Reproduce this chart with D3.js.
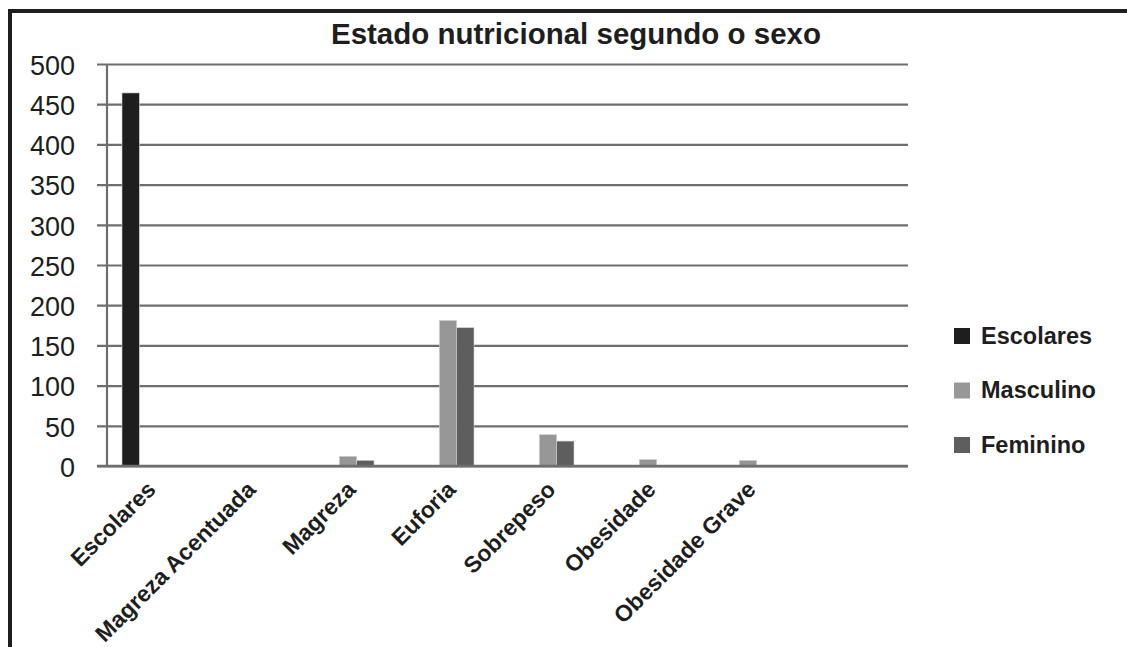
<!DOCTYPE html>
<html>
<head>
<meta charset="utf-8">
<script src="https://cdn.jsdelivr.net/npm/d3@7"></script>
<style>
  html, body { margin: 0; padding: 0; background: #fff; }
  svg { display: block; font-family: "Liberation Sans", Arial, sans-serif; }
</style>
</head>
<body>
<svg id="chart" width="1127" height="647"></svg>
<script>
const categories = ["Escolares", "Magreza Acentuada", "Magreza", "Euforia", "Sobrepeso", "Obesidade", "Obesidade Grave"];
const seriesNames = ["Escolares", "Masculino", "Feminino"];
const escolares = [464, 0, 0, 0, 0, 0, 0];
const masculino = [0, 0, 12, 181, 39, 8, 7];
const feminino = [0, 0, 7, 172, 31, 0, 0];
const yTicks = [0, 50, 100, 150, 200, 250, 300, 350, 400, 450, 500];
const seriesColors = ["#1e1e1e", "#979797", "#5e5e5e"];
const title = "Estado nutricional segundo o sexo";

const seriesValues = [escolares, masculino, feminino];
const svg = d3.select("#chart");

// frame
svg.append("line").attr("x1", 8).attr("x2", 1127).attr("y1", 11).attr("y2", 11)
  .attr("stroke", "#1e1e1e").attr("stroke-width", 4);
svg.append("line").attr("x1", 10).attr("x2", 10).attr("y1", 9).attr("y2", 647)
  .attr("stroke", "#1e1e1e").attr("stroke-width", 4);

// title
svg.append("text").attr("x", 576).attr("y", 44).attr("text-anchor", "middle")
  .attr("font-size", 29.5).attr("font-weight", "bold").attr("fill", "#1e1e1e").text(title);

const y = d3.scaleLinear().domain([0, 500]).range([466, 64]);
const x0 = d3.scaleBand().domain(categories).range([107, 807]);
const x1 = d3.scaleBand().domain(seriesNames).range([15, 67]);
const color = d3.scaleOrdinal().domain(seriesNames).range(seriesColors);

// grid + tick labels
const yAxis = d3.axisLeft(y).tickValues(yTicks).tickSize(-811).tickPadding(22).tickFormat(d3.format("d"));
const gy = svg.append("g").attr("transform", "translate(97,0)").call(yAxis);
gy.select(".domain").remove();
gy.selectAll(".tick line").attr("stroke", "#6e6e6e").attr("stroke-width", 2.2);
gy.selectAll(".tick text").attr("font-size", 27).attr("fill", "#1e1e1e")
  .attr("font-family", "'Liberation Sans', Arial, sans-serif").attr("dy", "0.38em");

// y axis line
svg.append("line").attr("x1", 107).attr("x2", 107).attr("y1", y(500)).attr("y2", y(0))
  .attr("stroke", "#6e6e6e").attr("stroke-width", 2.2);

// bars
const rows = categories.map((c, i) => ({ cat: c, vals: seriesNames.map((s, j) => ({ s, v: seriesValues[j][i] })) }));
const groups = svg.append("g").selectAll("g").data(rows).join("g")
  .attr("transform", d => `translate(${x0(d.cat)},0)`);
groups.selectAll("rect").data(d => d.vals.filter(e => e.v > 0)).join("rect")
  .attr("x", d => x1(d.s)).attr("width", x1.bandwidth())
  .attr("y", d => y(d.v)).attr("height", d => y(0) - y(d.v))
  .attr("fill", d => color(d.s)).attr("stroke", "#d0d0d0").attr("stroke-width", 0.6);

// baseline
svg.append("line").attr("x1", 97).attr("x2", 908).attr("y1", y(0)).attr("y2", y(0))
  .attr("stroke", "#6e6e6e").attr("stroke-width", 2.6);

// category labels
const xAxis = d3.axisBottom(x0).tickSize(0).tickPadding(0);
const gx = svg.append("g").attr("transform", "translate(0,466)").call(xAxis);
gx.select(".domain").remove();
gx.selectAll(".tick text")
  .attr("font-size", 23).attr("font-weight", "bold").attr("fill", "#1e1e1e")
  .attr("font-family", "'Liberation Sans', Arial, sans-serif")
  .attr("text-anchor", "end").attr("dy", 0).attr("y", 0)
  .attr("transform", "translate(0,25) rotate(-45)");

// legend
const legend = svg.append("g").selectAll("g").data(seriesNames).join("g")
  .attr("transform", (d, i) => `translate(954,${328 + i * 54.5})`);
legend.append("rect").attr("width", 16).attr("height", 16).attr("fill", d => color(d));
legend.append("text").attr("x", 27).attr("y", 15.5).attr("font-size", 23.5).attr("font-weight", "bold")
  .attr("fill", "#1e1e1e").text(d => d);
</script>
</body>
</html>
